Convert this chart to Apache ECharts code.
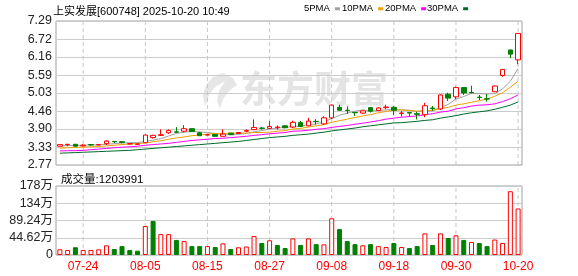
<!DOCTYPE html>
<html>
<head>
<meta charset="utf-8">
<script src="https://cdn.jsdelivr.net/npm/echarts@6/dist/echarts.min.js"></script>
<style>
  html, body { margin: 0; padding: 0; background: #fff; }
  #main { width: 578px; height: 276px; }
</style>
</head>
<body>
<div id="main"></div>
<script>
// 交易日
var dates = ['07-21','07-22','07-23','07-24','07-25','07-28','07-29','07-30','07-31','08-01',
  '08-04','08-05','08-06','08-07','08-08','08-11','08-12','08-13','08-14','08-15',
  '08-18','08-19','08-20','08-21','08-22','08-25','08-26','08-27','08-28','08-29',
  '09-01','09-02','09-03','09-04','09-05','09-08','09-09','09-10','09-11','09-12',
  '09-15','09-16','09-17','09-18','09-19','09-22','09-23','09-24','09-25','09-26',
  '09-29','09-30','10-09','10-10','10-13','10-14','10-15','10-16','10-17','10-20'];

var opens = [3.36,3.41,3.42,3.37,3.41,3.40,3.44,3.51,3.50,3.43, 3.42,3.47,3.63,3.70,3.78,3.81,3.83,3.91,3.78,3.71,
  3.73,3.67,3.77,3.76,3.83,3.88,3.93,3.92,3.94,4.00, 3.96,4.10,4.00,4.14,4.06,4.25,4.58,4.49,4.42,4.40,
  4.57,4.48,4.57,4.58,4.39,4.42,4.38,4.35,4.56,4.53, 4.99,4.91,5.20,5.05,4.90,4.85,5.07,5.58,6.38,6.07];
var closes = [3.41,3.42,3.36,3.39,3.40,3.41,3.52,3.50,3.48,3.44, 3.43,3.71,3.70,3.72,3.85,3.80,3.91,3.82,3.69,3.72,
  3.67,3.74,3.73,3.79,3.85,3.95,3.92,3.98,3.96,3.94, 4.11,3.98,4.15,4.13,4.25,4.65,4.49,4.48,4.41,4.47,
  4.46,4.56,4.59,4.49,4.40,4.40,4.36,4.63,4.54,4.97, 4.87,5.20,5.03,5.04,4.89,4.84,5.25,5.77,6.25,6.90];
var highs = [3.42,3.43,3.43,3.42,3.41,3.41,3.55,3.52,3.52,3.45, 3.44,3.72,3.72,3.89,3.89,3.96,4.02,3.92,3.81,3.73,
  3.74,3.89,3.78,3.80,3.89,4.20,3.96,4.15,4.01,4.01, 4.16,4.15,4.25,4.21,4.30,4.67,4.66,4.61,4.42,4.48,
  4.59,4.59,4.66,4.62,4.46,4.42,4.44,4.72,4.62,4.99, 5.04,5.23,5.21,5.26,4.97,5.00,5.26,5.78,6.39,6.91];
var lows = [3.35,3.36,3.35,3.35,3.37,3.39,3.40,3.46,3.45,3.42, 3.41,3.46,3.60,3.68,3.75,3.79,3.80,3.81,3.68,3.70,
  3.66,3.66,3.72,3.75,3.80,3.87,3.88,3.90,3.88,3.92, 3.93,3.96,3.99,4.04,4.03,4.21,4.48,4.37,4.31,4.38,
  4.42,4.46,4.52,4.34,4.29,4.29,4.20,4.27,4.47,4.50, 4.78,4.84,4.97,5.01,4.81,4.76,5.06,5.54,6.12,5.93];

// 均线
var ma5 = [3.37,3.38,3.38,3.39,3.40,3.40,3.42,3.44,3.46,3.47, 3.47,3.51,3.55,3.60,3.68,3.76,3.80,3.82,3.81,3.79,
  3.76,3.73,3.71,3.73,3.76,3.81,3.85,3.90,3.93,3.95, 3.98,3.99,4.03,4.06,4.12,4.23,4.33,4.40,4.46,4.50,
  4.46,4.48,4.50,4.51,4.50,4.49,4.45,4.46,4.47,4.58, 4.67,4.84,4.92,5.02,5.01,5.00,5.01,5.16,5.40,5.80];
var ma10 = [3.30,3.31,3.32,3.33,3.34,3.35,3.37,3.39,3.41,3.43, 3.44,3.46,3.50,3.53,3.58,3.62,3.65,3.69,3.71,3.74,
  3.76,3.76,3.77,3.77,3.77,3.79,3.79,3.80,3.83,3.85, 3.90,3.92,3.96,4.00,4.04,4.11,4.16,4.21,4.26,4.31,
  4.35,4.41,4.45,4.49,4.50,4.48,4.46,4.48,4.49,4.54, 4.58,4.65,4.69,4.74,4.79,4.84,4.93,5.04,5.21,5.40];
var ma20 = [3.21,3.22,3.22,3.23,3.25,3.27,3.29,3.31,3.33,3.34, 3.36,3.39,3.41,3.43,3.45,3.48,3.51,3.54,3.56,3.58,
  3.60,3.61,3.63,3.65,3.67,3.70,3.72,3.75,3.77,3.79, 3.83,3.84,3.86,3.89,3.91,3.95,3.98,4.01,4.05,4.08,
  4.12,4.16,4.21,4.24,4.27,4.29,4.31,4.35,4.38,4.43, 4.46,4.53,4.57,4.62,4.65,4.66,4.69,4.76,4.85,4.97];
var ma30 = [3.14,3.15,3.16,3.17,3.18,3.19,3.20,3.21,3.22,3.23, 3.25,3.27,3.29,3.31,3.33,3.35,3.37,3.39,3.41,3.43,
  3.45,3.47,3.49,3.51,3.54,3.57,3.60,3.63,3.65,3.67, 3.70,3.72,3.74,3.77,3.80,3.84,3.87,3.90,3.93,3.97,
  4.00,4.03,4.06,4.09,4.10,4.12,4.14,4.17,4.19,4.24, 4.28,4.32,4.37,4.41,4.44,4.47,4.52,4.58,4.65,4.75];

// 成交量（万），1 = 红 0 = 绿
var volumes = [14.7,13,20,13,13,14.7,25,15.5,23,13, 11,75,88,54,54,39,36,23,23,23,
  20.7,30,15.5,20,22,49,31,38,26,18, 43,26,43,28,27.5,95,67,36,28,25,
  28,23,20.7,31,20.7,18,23,56,26,56, 44,51,39,33.6,31,23,40,31,165,120.4];
var volUp = [1,1,0,1,1,1,1,0,0,0, 0,1,0,1,1,0,1,0,0,1, 0,1,0,1,1,1,0,1,0,0,
  1,0,1,0,1,1,0,0,0,1, 0,1,1,0,1,0,0,1,0,1, 0,1,0,1,0,0,1,1,1,1];

var priceTicks = [2.77, 3.33, 3.90, 4.46, 5.03, 5.59, 6.16, 6.72, 7.29];
var volTicks = [0, 44.62, 89.24, 133.86, 178.48];
var dateLabels = ['07-24', '08-05', '08-15', '08-27', '09-08', '09-18', '09-30', '10-20'];

var maNames = ['5PMA', '10PMA', '20PMA', '30PMA'];
var maColors = ['#a0a0a0', '#f0a000', '#ff00ff', '#006a2a'];
var maLefts = [304, 342, 385, 427];

var RED = '#ff0000';
var GREEN = '#008000';
var FONT = "'Liberation Sans', Arial, 'Noto Sans CJK SC', sans-serif";

var kData = opens.map(function (o, i) { return [o, closes[i], lows[i], highs[i]]; });
var volData = volumes.map(function (v, i) {
  return {
    value: v,
    itemStyle: volUp[i]
      ? { color: '#ffffff', borderColor: RED, borderWidth: 1 }
      : { color: GREEN, borderColor: GREEN, borderWidth: 1 }
  };
});

function dateTick(idx) { return dateLabels.indexOf(dates[idx]) >= 0; }

// 竖向虚线：每个日期刻度一条，从轴底到轴顶
function vLines(axisIndex, lo, hi) {
  return dateLabels.map(function (d) {
    return { type: 'line', xAxisIndex: axisIndex, yAxisIndex: axisIndex, data: [[d, lo], [d, hi]],
      symbol: 'none', silent: true, z: 1, clip: false,
      lineStyle: { color: '#c8c8c8', width: 1, type: [4, 3] } };
  });
}

var myChart = echarts.init(document.getElementById('main'));

var maSeries = maNames.map(function (n, k) {
  return { name: n, type: 'line', data: [ma5, ma10, ma20, ma30][k], symbol: 'none', color: maColors[k],
    lineStyle: { width: 1, color: maColors[k] }, z: 3 };
});

function catAxis(gridIndex, showLabel) {
  return {
    type: 'category', gridIndex: gridIndex, data: dates, boundaryGap: true,
    axisLine: { show: false }, axisTick: { show: false },
    axisLabel: { show: showLabel, interval: dateTick, color: RED, fontSize: 12, margin: 6, fontFamily: FONT },
    splitLine: { show: false }
  };
}

var option = {
  animation: false,
  backgroundColor: '#ffffff',
  title: [
    { text: '上实发展[600748] 2025-10-20 10:49', left: 48, top: 1,
      textStyle: { fontSize: 11, fontWeight: 'normal', color: '#000', fontFamily: FONT } },
    { text: '成交量:1203991', left: 56, top: 169,
      textStyle: { fontSize: 11.5, fontWeight: 'normal', color: '#000', fontFamily: FONT } }
  ],
  legend: maNames.map(function (n, k) {
    return { left: maLefts[k], top: 4, padding: 0, itemWidth: 5, itemHeight: 3, align: 'right',
      selectedMode: false, icon: 'rect',
      textStyle: { fontSize: 9.5, color: '#000', fontFamily: FONT },
      data: [n] };
  }),
  graphic: [
    { type: 'polygon', left: 203, top: 73, z: -10, silent: true,
      shape: { points: [[22,0],[12,4],[5,12],[2,22],[4,33],[8,22],[14,14],[24,8],[18,18],[16,28],[19,36],[22,26],[28,18],[36,12],[32,5]] },
      style: { fill: '#e6e6e6' } },
    { type: 'text', left: 240, top: 70, z: -10, silent: true,
      style: { text: '东方财富', fill: '#e4e4e4', fontSize: 37, fontWeight: 'bold',
        fontFamily: "'Noto Sans CJK SC', sans-serif" } }
  ],
  grid: [
    { left: 56, right: 56, top: 21, height: 144, show: true, borderColor: '#a0a0a0', borderWidth: 1 },
    { left: 56, right: 56, top: 186, height: 69, show: true, borderColor: '#a0a0a0', borderWidth: 1 }
  ],
  xAxis: [catAxis(0, false), catAxis(1, true)],
  yAxis: [
    { type: 'value', gridIndex: 0, min: 2.77, max: 7.29, scale: true,
      axisLine: { show: false },
      axisTick: { show: false, customValues: priceTicks },
      axisLabel: { customValues: priceTicks, color: '#222', fontSize: 12.5, margin: 4, fontFamily: FONT,
        formatter: function (v) { return v.toFixed(2); } },
      splitLine: { show: true, lineStyle: { color: '#cccccc' } } },
    { type: 'value', gridIndex: 1, min: 0, max: 178.48,
      axisLine: { show: false },
      axisTick: { show: false, customValues: volTicks },
      axisLabel: { customValues: volTicks, color: '#222', fontSize: 12.5, margin: 3, fontFamily: FONT,
        formatter: function (v) {
          if (v === 0) return '0';
          return (v >= 100 ? Math.round(v) : v.toFixed(2)) + '万';
        } },
      splitLine: { show: true, lineStyle: { color: '#cccccc' } } }
  ],
  series: vLines(0, priceTicks[0], priceTicks[priceTicks.length - 1])
    .concat(vLines(1, volTicks[0], volTicks[volTicks.length - 1]))
    .concat([
      { name: 'K', type: 'candlestick', xAxisIndex: 0, yAxisIndex: 0, data: kData, barWidth: 5, z: 4,
        itemStyle: { color: '#ffffff', color0: GREEN, borderColor: RED, borderColor0: GREEN, borderWidth: 1 } }
    ])
    .concat(maSeries)
    .concat([
      { name: 'VOL', type: 'bar', xAxisIndex: 1, yAxisIndex: 1, data: volData, barWidth: 5, z: 4 }
    ])
};

myChart.setOption(option);

window.onresize = () => {
  myChart.resize()
}
</script>
</body>
</html>
